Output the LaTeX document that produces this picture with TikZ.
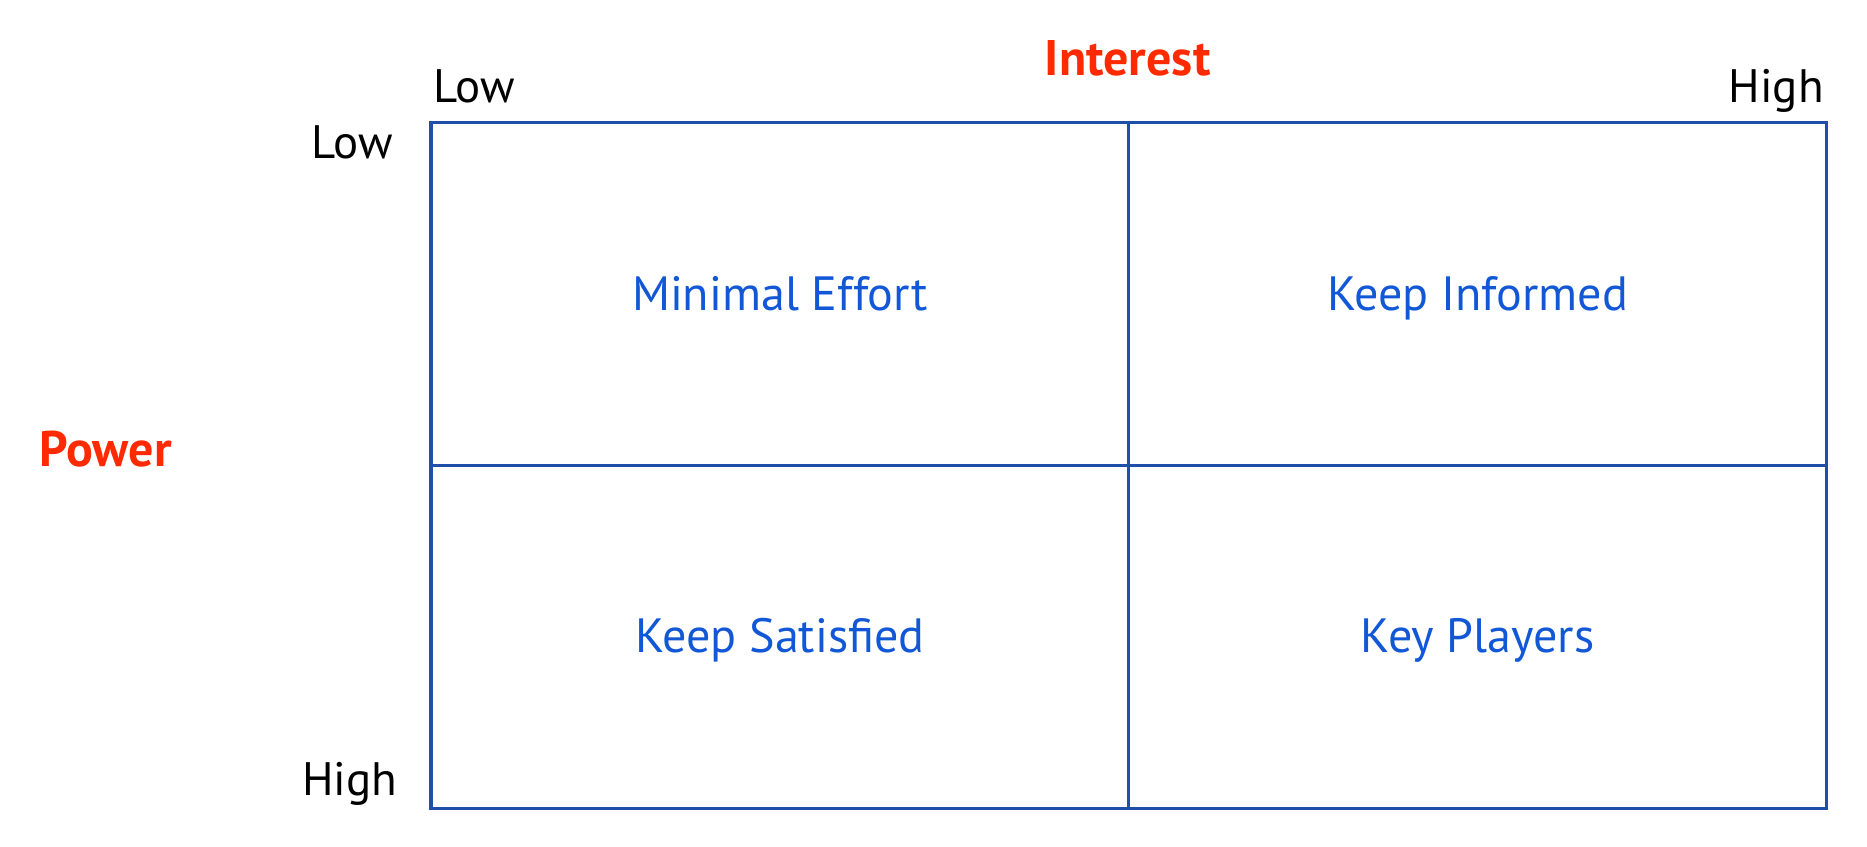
\documentclass[tikz,border=0pt]{standalone}
\usepackage{fontspec}
\setmainfont{PT Sans}
\definecolor{gridblue}{HTML}{1F4FA8}
\definecolor{textblue}{HTML}{1258D6}
\definecolor{axisred}{HTML}{FF2A00}
\begin{document}
\begin{tikzpicture}[x=0.5pt,y=-0.5pt,
  gridline/.style={draw=gridblue,line width=1.4pt},
  quad/.style={font=\fontsize{20.2}{24}\selectfont,text=textblue,inner sep=0pt,anchor=base},
  tick/.style={font=\fontsize{19.7}{24}\selectfont,text=black,inner sep=0pt},
  axis/.style={font=\fontsize{21}{25}\selectfont\bfseries,text=axisred,inner sep=0pt}]
\useasboundingbox (0,0) rectangle (1568,711);
\coordinate (tl) at (362,103);
\coordinate (tr) at (1534,103);
\coordinate (bl) at (362,679);
\coordinate (br) at (1534,679);
\coordinate (tm) at (948,103);
\coordinate (bm) at (948,679);
\coordinate (ml) at (362,391);
\coordinate (mr) at (1534,391);
\draw[gridline] (tl) -- (tr) -- (br) -- (bl) -- cycle;
\draw[gridline] (tm) -- (bm);
\draw[gridline] (ml) -- (mr);
\node[axis,anchor=base] (interest) at (947,63) {Interest};
\node[axis,anchor=base west] (power) at (33,392) {Power};
\node[tick,anchor=base west] (lowtop) at (364,86) {Low};
\node[tick,anchor=base east] (hightop) at (1532,86) {High};
\node[tick,anchor=base east] (lowleft) at (330,133) {Low};
\node[tick,anchor=base east] (highleft) at (334,668) {High};
\node[quad] (minimal) at (655,261) {Minimal Effort};
\node[quad] (informed) at (1241,261) {Keep Informed};
\node[quad] (satisfied) at (655,548) {Keep Satisfied};
\node[quad] (players) at (1241,548) {Key Players};
\end{tikzpicture}
\end{document}
